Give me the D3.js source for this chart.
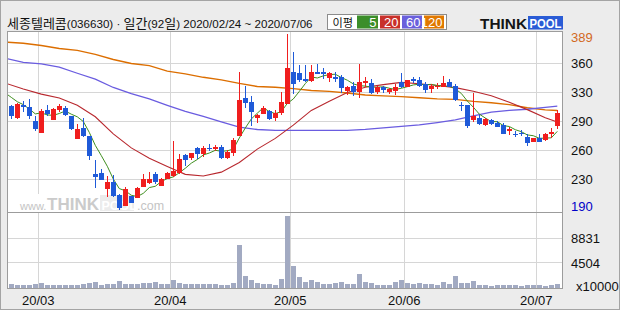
<!DOCTYPE html>
<html><head><meta charset="utf-8">
<script src="https://cdn.jsdelivr.net/npm/d3@7"></script>
<style>body{margin:0;background:#ececec;} svg{display:block;}</style>
</head><body><svg id="c" width="620" height="310"></svg>
<script>
// ---------------- DATA ----------------
const title = "세종텔레콤(036630) · 일간(92일) 2020/02/24 ~ 2020/07/06";
const legendTitle = "이평";
const legendLabels = ["5","20","60","120"];
const monthLabels = ["20/03","20/04","20/05","20/06","20/07"];
const monthStartIdx = [5,27,47,66,88];
const priceTicks = [360,330,290,260,230];
const priceMax = 389, priceMin = 190;
const volTicks = [4504, 8831];
const volUnit = "x10000";

const open  = [311,294,312,310,291,278,306,292,305,309,297,272,283,275,235,237,218,226,210,196,209,206,220,225,235,221,230.5,233,237,255,252.5,262,256,262.5,261.5,263.5,252.5,257,275,322,316.5,294.5,300,304.5,294,301.5,314.5,351,349.5,344,341.5,351,351,345,345.5,345.5,331.5,337,330.5,340.5,339.5,330.5,335.5,330.5,331.5,340.5,335,344,343,338.5,333.5,335.5,336,340.5,336.5,312.5,312,291.5,294,286,291.5,288.5,286,279.5,277,278,273.5,268.5,272.5,270.5,277,285];
const high  = [313,315,318,321,297,307,312,308,314,311,298,287,295,275,250,241,233,234,211,220,209,220,235.5,238,238,231.5,238,270,256.5,256,257,263.5,264,267,265,265.5,260.5,272.5,351,337,325,300.5,311,305.5,305,330,389,371,358.5,358,358.5,359.5,355,351.5,350.5,347.5,336.5,341,359.5,345.5,344,336.5,336.5,334.5,338.5,349.5,343,346,345.5,340.5,338.5,339.5,347,344,338.5,317,313,328.5,298.5,294,293,290,288.5,284,280,281.5,277,273,277,277.5,283,305];
const low   = [293,293,303,293,280,278,297,292,303,297,281,272,274,250,219,228.5,207,207,190,196,199,206,220,223.5,224.5,221,230.5,232.5,235,243.5,249.5,251.5,253,259.5,259,251.5,251.5,254,275,308.5,285.5,288,300,291.5,290.5,299,314.5,327,340.5,340.5,340.5,349,343.5,340.5,341,329.5,326,325.5,322,335,327.5,328,329,327.5,326.5,334,335,339.5,336,328.5,328.5,333.5,335,335,318.5,304.5,283,289.5,286,285,286,284,276.5,276,274,275,264.5,268.5,268.5,270,273,282];
const close = [297,314,310,298,282,304,300,307,311,299,282,282,275,254.5,232,229,227,209,193,218,200,218.5,230,230,226.5,230.5,237,238.5,251.5,249.5,257,256,262,261.5,263.5,252,258.5,270.5,319,315.5,302.5,298.5,308,292.5,301.5,316.5,355,338.5,343,342,351,349.5,349.5,349.5,344,334,335.5,330.5,340.5,341.5,329,335,332.5,333,335,335.5,343,341.5,337,332.5,337,337,339.5,335,319.5,311,285,297,287,292.5,287,284.5,277,282,276,277,267.5,273,268.5,277,278.5,301];
const volume = [606,433,433,433,606,779,433,433,433,433,433,433,606,779,952,433,606,606,1125,606,606,606,779,779,952,606,606,1298,779,606,606,606,606,606,606,433,433,779,7530,1991,1298,779,606,606,433,1471,12723,3895,1818,952,1298,952,606,606,779,952,606,606,2337,952,779,433,433,433,952,1298,779,606,779,606,606,433,952,606,1991,779,779,1125,433,433,260,433,433,433,433,260,433,433,433,260,433,606];

// MA5 starts one session before the first candle (index -1)
const ma5 = [329,323,317,313,307,300.2,301.6,298.8,298.2,300.8,304.2,299.8,296.2,289.8,278.5,265.1,254.5,243.5,230.3,218,215.2,209.4,207.7,211.9,219.3,221,227.1,230.8,232.5,236.8,241.4,246.7,250.5,255.2,257.2,260,259,259.5,261.2,272.7,283.1,293.2,301.2,308.7,303.4,300.6,303.4,314.7,320.8,330.9,339,345.9,344.8,347,348.3,348.7,345.3,342.5,338.7,336.9,336.4,335.4,335.3,335.7,334.2,332.9,334.2,335.8,337.6,338.4,337.9,338.2,337,336.6,336.2,333.6,328.4,318,309.5,299.9,294.5,289.7,289.6,285.6,284.6,281.3,279.3,275.9,275.1,272.4,272.6,272.9,279.6];
// longer averages read at these session indices
const maIdx  = [-1,2,5,8,11,14,17,20,23,26,29,32,35,38,41,44,47,50,53,56,59,62,65,68,71,74,77,80,83,86,89,91];
const ma20  = [339.5,333.5,327.5,322.1,312,296.3,277,262.5,251.8,243.3,235.1,233.4,237.4,247.4,261.2,272.3,286,305,317.6,329.7,335.2,337.9,340.3,338.9,337.1,334.8,331,325.3,316.4,306.1,295,289.3];
const ma60  = [365,361,359.3,356,349.7,343.7,335,328.3,320.8,312,303.8,296.8,289.5,284,281.5,280.7,280.7,280.7,280.7,280.7,281.7,283.3,284.8,286.3,288.7,292,297.6,302.7,305.2,306.6,309.1,310.8];
const ma120 = [381,379.9,377.6,374.6,372.8,368.9,363.8,359.8,357.6,351.9,349,345.5,342.9,339.2,336,335.2,333.8,331.9,331,329,326.3,325,324,322.5,321,320.2,317.5,315.6,313,308.7,305.8,304.8];

// ---------------- STYLE ----------------
const UP = "#f01e1e", DOWN = "#1f5ad8";
const maColors = ["#3f8f1f","#b8282e","#6a5ce0","#dc6e00"];
const legendColors = ["#3b8e2a","#c8302a","#6a60dc","#e07800"];
const NUMFONT = "'Liberation Sans Narrow','Liberation Sans',Arial,sans-serif";
const LATFONT = "'Liberation Sans',Arial,sans-serif";
const KRFONT = "'Noto Sans CJK KR','Noto Sans',sans-serif";
const WMFONT = "Arial,'Liberation Sans',sans-serif";

const svg = d3.select("#c");
const L = 7.5, R = 562.5, T = 31.5, PB = 212.5, VB = 288.5;

svg.append("rect").attr("x",0).attr("y",0).attr("width",620).attr("height",310).attr("fill","#ececec");
svg.append("rect").attr("x",L).attr("y",T).attr("width",R-L).attr("height",VB-T).attr("fill","#fff");

const n = open.length;
const x = d3.scaleLinear().domain([0, n-1]).range([11.3, 557.3]);
const y = d3.scaleLinear()
  .domain([priceMin, ...priceTicks.slice().reverse(), priceMax])
  .range([210.3,179.3,150.3,121.3,92.3,63.3,34]);
const yv = d3.scaleLinear().domain([0, 13300]).range([287.7, 212.3]);

const defs = svg.append("defs");
defs.append("clipPath").attr("id","cp").append("rect").attr("x",L+0.5).attr("y",T+0.5).attr("width",R-L-1).attr("height",PB-T-1);

// grid
const grid = svg.append("g").attr("stroke","#d6d6d6").attr("stroke-width",1).attr("shape-rendering","crispEdges");
grid.selectAll("line.h").data(priceTicks).join("line")
  .attr("x1",L).attr("x2",R).attr("y1",d=>Math.round(y(d))+0.5).attr("y2",d=>Math.round(y(d))+0.5);
grid.selectAll("line.v").data(volTicks).join("line")
  .attr("x1",L).attr("x2",R).attr("y1",d=>Math.round(yv(d))+0.5).attr("y2",d=>Math.round(yv(d))+0.5);
grid.selectAll("line.m").data(monthStartIdx).join("line")
  .attr("x1",d=>Math.round(x(d-0.5))+0.5).attr("x2",d=>Math.round(x(d-0.5))+0.5).attr("y1",T).attr("y2",VB);

// watermark
const wm = svg.append("g");
wm.append("rect").attr("x",20).attr("y",194).attr("width",146).attr("height",18).attr("fill","#fff");
wm.append("text").attr("x",20).attr("y",209.5).attr("font-family",NUMFONT).attr("font-size",11).attr("fill","#c4c4c4").text("www.");
wm.append("text").attr("x",47).attr("y",210).attr("font-family",WMFONT).attr("font-weight","bold").attr("font-size",17).attr("fill","#cbcbcb").text("THINK");
wm.append("rect").attr("x",100).attr("y",195).attr("width",34).attr("height",16).attr("fill","#ececec");
wm.append("text").attr("x",101.5).attr("y",209.5).attr("font-family",NUMFONT).attr("font-weight","bold").attr("font-size",12.5).attr("fill","#fff").text("POOL");
wm.append("text").attr("x",137).attr("y",209.5).attr("font-family",WMFONT).attr("font-size",12.5).attr("fill","#c4c4c4").text(".com");

// moving averages
const gl = svg.append("g").attr("clip-path","url(#cp)").attr("fill","none");
const line = d3.line().x(d=>x(d[0])).y(d=>y(d[1]));
const series = [
  {pts: maIdx.map((k,j)=>[k, ma120[j]]), c: maColors[3], w: 1.4},
  {pts: maIdx.map((k,j)=>[k, ma60[j]]),  c: maColors[2], w: 1.3},
  {pts: maIdx.map((k,j)=>[k, ma20[j]]),  c: maColors[1], w: 1.1},
  {pts: ma5.map((v,k)=>[k-1, v]), c: maColors[0], w: 1.0}
];
gl.selectAll("path").data(series).join("path")
  .attr("d",d=>line(d.pts)).attr("stroke",d=>d.c).attr("stroke-width",d=>d.w);

// candles
const idx = d3.range(n);
const gc = svg.append("g").attr("shape-rendering","crispEdges");
const col = i => close[i] >= open[i] ? UP : DOWN;
gc.selectAll("rect.w").data(idx).join("rect")
  .attr("x",i=>Math.round(x(i))).attr("width",1)
  .attr("y",i=>y(high[i])).attr("height",i=>Math.max(1,y(low[i])-y(high[i])))
  .attr("fill",col);
gc.selectAll("rect.b").data(idx).join("rect")
  .attr("x",i=>Math.round(x(i))-2).attr("width",5)
  .attr("y",i=>y(Math.max(open[i],close[i])))
  .attr("height",i=>Math.max(1.5,Math.abs(y(open[i])-y(close[i]))))
  .attr("fill",col);

// volume
svg.append("g").attr("shape-rendering","crispEdges").selectAll("rect").data(idx).join("rect")
  .attr("x",i=>Math.round(x(i))-2).attr("width",5)
  .attr("y",i=>yv(volume[i])).attr("height",i=>yv(0)-yv(volume[i]))
  .attr("fill","#a2aac2");

// frame
const fr = svg.append("g").attr("fill","none").attr("stroke","#9c9c9c").attr("shape-rendering","crispEdges");
fr.append("rect").attr("x",L).attr("y",T).attr("width",R-L).attr("height",VB-T).attr("stroke-width",1.3);
fr.append("line").attr("x1",L).attr("x2",R).attr("y1",PB).attr("y2",PB).attr("stroke-width",1.5);
svg.append("rect").attr("x",0.5).attr("y",0.5).attr("width",619).attr("height",309).attr("fill","none").attr("stroke","#a4a4a4");

// price axis
const ax = svg.append("g").attr("transform","translate(571,0)")
  .call(d3.axisRight(y).tickValues(priceTicks).tickSize(0).tickPadding(0).tickFormat(d3.format("d")));
ax.select(".domain").remove();
ax.selectAll("text").attr("font-family",NUMFONT).attr("font-size",13).attr("fill","#111").attr("text-anchor","start");
svg.append("text").attr("x",571).attr("y",y(priceMax)+3.3).attr("dy","0.35em").attr("font-family",NUMFONT).attr("font-size",13).attr("fill","#d2691e").text(priceMax);
svg.append("text").attr("x",571).attr("y",y(priceMin)-3.6).attr("dy","0.35em").attr("font-family",NUMFONT).attr("font-size",13).attr("fill","#0000c8").text(priceMin);

// volume axis
const av = svg.append("g").attr("transform","translate(571,1)")
  .call(d3.axisRight(yv).tickValues(volTicks).tickSize(0).tickPadding(0).tickFormat(d3.format("d")));
av.select(".domain").remove();
av.selectAll("text").attr("font-family",NUMFONT).attr("font-size",13).attr("fill","#111").attr("text-anchor","start");
svg.append("text").attr("x",576).attr("y",286).attr("dy","0.35em").attr("font-family",NUMFONT).attr("font-size",13).attr("fill","#111").text(volUnit);

// month labels
svg.append("g").selectAll("text").data(monthLabels).join("text")
  .attr("x",(d,k)=>x(monthStartIdx[k]-0.5)).attr("y",300.5).attr("dy","0.35em")
  .attr("text-anchor","middle").attr("font-family",NUMFONT).attr("font-size",13).attr("fill","#111").text(d=>d);

// title: Hangul runs in the CJK font, digits/punctuation in a Latin font
const tt = svg.append("text").attr("x",7).attr("y",27.5).attr("fill","#111");
title.match(/[\uAC00-\uD7A3]+|[^\uAC00-\uD7A3]+/g).forEach(part=>{
  const kr = /[\uAC00-\uD7A3]/.test(part);
  tt.append("tspan").attr("font-family",kr?KRFONT:LATFONT).attr("font-size",kr?13:11.6).text(part);
});

// legend
const lg = svg.append("g");
lg.append("rect").attr("x",327.5).attr("y",14.5).attr("width",119).attr("height",15).attr("fill","#fff").attr("stroke","#8c8c8c");
lg.append("text").attr("x",332.5).attr("y",26.8).attr("font-family",KRFONT).attr("font-size",11.2).attr("fill","#111").text(legendTitle);
const boxX = [357,380,402,424], boxW = [21,20,20,20];
legendLabels.forEach((lab,k)=>{
  lg.append("rect").attr("x",boxX[k]).attr("y",15.5).attr("width",boxW[k]).attr("height",13).attr("fill",legendColors[k]);
  lg.append("text").attr("x",boxX[k]+boxW[k]-1.5).attr("y",27).attr("text-anchor","end")
    .attr("font-family",NUMFONT).attr("font-size",13).attr("fill","#fff").text(lab);
});

// logo
const lo = svg.append("g");
lo.append("text").attr("x",480).attr("y",28.5).attr("font-family","'Liberation Sans',Arial,sans-serif").attr("font-weight","bold")
  .attr("font-size",15).attr("fill","#151515").attr("textLength",47).attr("lengthAdjust","spacingAndGlyphs").text("THINK");
lo.append("rect").attr("x",528).attr("y",16).attr("width",35).attr("height",13.5).attr("fill","#2a5cd6");
lo.append("text").attr("x",529.5).attr("y",28.3).attr("font-family","'Liberation Sans',Arial,sans-serif").attr("font-weight","bold")
  .attr("font-size",13).attr("fill","#fff").attr("textLength",32).attr("lengthAdjust","spacingAndGlyphs").text("POOL");
</script>
</body></html>
